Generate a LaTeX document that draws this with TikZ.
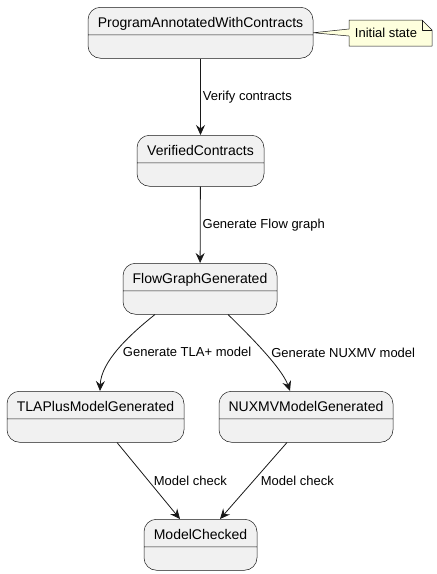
\documentclass[tikz,border=0pt]{standalone}
\usepackage{fontspec}
\setmainfont{Liberation Sans}
\usetikzlibrary{positioning, arrows.meta, shapes.multipart}
\definecolor{umlline}{HTML}{181818}
\definecolor{umlfill}{HTML}{F1F1F1}
\definecolor{notefill}{HTML}{FEFFDD}
\begin{document}
\begin{tikzpicture}[x=1pt, y=-1pt, font=\fontsize{13}{15}\selectfont,
  state/.style={rectangle split, rectangle split parts=2, rectangle split draw splits,
    draw=umlline, line width=0.5pt, fill=umlfill, rounded corners=12.5pt, anchor=north,
    inner xsep=6pt, inner ysep=7pt, text height=13pt, text depth=0pt,
    rectangle split empty part height=9pt, rectangle split empty part depth=0pt,
    font=\fontsize{14}{16}\selectfont},
  tr/.style={-{Stealth[length=10pt, width=9pt, inset=3.5pt]}, umlline, line width=0.8pt},
  lbl/.style={font=\fontsize{13}{15}\selectfont, text=black, inner sep=1pt},
  noteline/.style={umlline, line width=0.5pt, line join=round},
  notetext/.style={inner sep=0pt, text height=9pt, text depth=0pt}]
\useasboundingbox (0,0) rectangle (437,574);
% states
\node[state, minimum width=225pt] (pawc) at (200.5,7)   {ProgramAnnotatedWithContracts};
\node[state, minimum width=127pt] (vc)   at (200.5,135) {VerifiedContracts};
\node[state, minimum width=154pt] (fgg)  at (200,263)   {FlowGraphGenerated};
\node[state, minimum width=177pt] (tla)  at (95.5,391)  {TLAPlusModelGenerated};
\node[state, minimum width=174pt] (nux)  at (306,391)   {NUXMVModelGenerated};
\node[state, minimum width=113pt] (mc)   at (200.5,519) {ModelChecked};
% note on the first state
\coordinate (nnw) at (349,20);
\coordinate (nse) at (432,46);
\coordinate (nfold) at (422,20);
\coordinate (nfoldb) at (432,30);
\draw[noteline, fill=notefill]
  (nnw) -- (nfold) -- (nfoldb) -- (nse) -- (349,46) -- (349,36)
  -- (pawc.east) -- (349,29) -- cycle;
\draw[noteline] (nfold) -- (422,30) -- (nfoldb);
\node[notetext, anchor=base] (note) at (386,37) {Initial state};
% transitions
\draw[tr] (pawc) -- node[lbl, right=1pt] {Verify contracts} (vc);
\draw[tr] (vc) -- node[lbl, right=1pt] {Generate Flow graph} (fgg);
\draw[tr] (fgg.south -| 155,0) .. controls (128,336) and (101,362) .. (tla.north -| 100,0)
  node[lbl, pos=0.52, right=5pt] {Generate TLA+ model};
\draw[tr] (fgg.south -| 228,0) .. controls (248,334) and (282,368) .. (nux.north -| 290,0)
  node[lbl, pos=0.52, right=5pt] {Generate NUXMV model};
\draw[tr] (tla.south -| 117,0) -- node[lbl, right=4pt] {Model check} (mc.north -| 180,0);
\draw[tr] (nux.south -| 287,0) -- node[lbl, right=6pt] {Model check} (mc.north -| 220,0);
\end{tikzpicture}
\end{document}
